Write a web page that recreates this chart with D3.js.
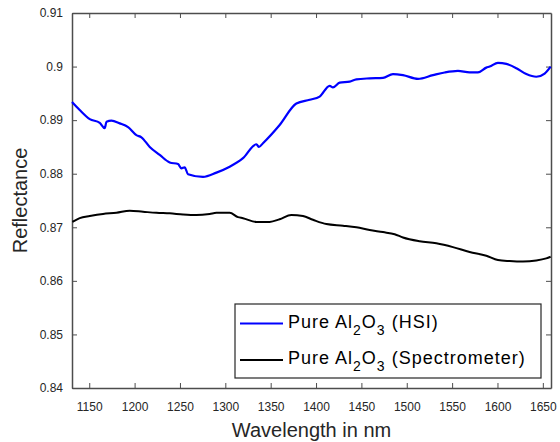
<!DOCTYPE html>
<html>
<head>
<meta charset="utf-8">
<script src="https://cdn.jsdelivr.net/npm/d3@7"></script>
<style>
  body { margin: 0; background: #fff; }
  svg { display: block; font-family: "Liberation Sans", Arial, sans-serif; }
  .axis text { font-size: 12px; fill: #262626; }
  .axis path, .axis line { stroke: #4d4d4d; }
</style>
</head>
<body>
<div id="chart"></div>
<script>
// wavelength (nm) / reflectance
const hsiWave = [1131, 1139.5, 1150.6, 1161.6, 1167.1, 1169, 1174.5, 1183.6, 1192.8, 1202, 1207.5,
  1216.7, 1227.7, 1238.7, 1247.9, 1251.6, 1255.2, 1258.9, 1275.4, 1290.2, 1304.8, 1319.5, 1334.3,
  1337.1, 1341.5, 1359.9, 1378.3, 1393, 1404, 1415, 1418.7, 1426.1, 1437.1, 1444.5, 1459.1, 1473.8,
  1484.8, 1495.8, 1512.4, 1528.9, 1541.8, 1556.4, 1569.3, 1578.5, 1587.7, 1591.4, 1600.5, 1609.8,
  1620.8, 1631.8, 1642.8, 1652, 1658.6];
const hsiRefl = [0.8934, 0.8919, 0.8902, 0.8895, 0.8885, 0.8897, 0.8899, 0.8894, 0.8887, 0.8872, 0.8868,
  0.8850, 0.8835, 0.8821, 0.8818, 0.8810, 0.8812, 0.8799, 0.8794, 0.8802, 0.8813, 0.8829, 0.8855,
  0.8850, 0.8857, 0.8891, 0.8931, 0.8938, 0.8944, 0.8964, 0.8961, 0.8970, 0.8972, 0.8976, 0.8978, 0.8979,
  0.8986, 0.8984, 0.8977, 0.8984, 0.8989, 0.8992, 0.8989, 0.8989, 0.8998, 0.9000, 0.9007, 0.9005,
  0.8997, 0.8986, 0.8981, 0.8987, 0.9000];

const specWave = [1131.5, 1139.5, 1150.6, 1165.2, 1180, 1194.6, 1209.3, 1224.1, 1238.7, 1253.4, 1268.1,
  1282.8, 1290.2, 1304.8, 1314, 1319.5, 1334.3, 1348.9, 1359.9, 1372.8, 1385.6, 1396.6, 1411.4, 1429.7,
  1444.5, 1459.1, 1473.8, 1486.7, 1495.8, 1514.2, 1532.6, 1550.9, 1569.3, 1587.7, 1600.5, 1613.4,
  1628.1, 1642.8, 1653.8, 1658.6];
const specRefl = [0.8710, 0.8717, 0.8721, 0.8725, 0.8727, 0.8731, 0.8729, 0.8727, 0.8726, 0.8724, 0.8723,
  0.8725, 0.8727, 0.8727, 0.8719, 0.8717, 0.8710, 0.8710, 0.8715, 0.8723, 0.8721, 0.8714, 0.8706, 0.8703,
  0.8700, 0.8695, 0.8691, 0.8687, 0.8681, 0.8674, 0.8670, 0.8663, 0.8654, 0.8647, 0.8639, 0.8637,
  0.8636, 0.8638, 0.8642, 0.8645];

const xTicks = [1150, 1200, 1250, 1300, 1350, 1400, 1450, 1500, 1550, 1600, 1650];
const yTicks = [0.84, 0.85, 0.86, 0.87, 0.88, 0.89, 0.9, 0.91];

const margin = {top: 13, right: 9, bottom: 54, left: 72};
const width = 560 - margin.left - margin.right;
const height = 442 - margin.top - margin.bottom;

const svg = d3.select("#chart").append("svg")
  .attr("width", 560)
  .attr("height", 442);

const g = svg.append("g")
  .attr("transform", "translate(" + margin.left + "," + margin.top + ")");

const x = d3.scaleLinear().domain([1131, 1659]).range([0, width]);
const y = d3.scaleLinear().domain([0.84, 0.91]).range([height, 0]);

// axes with inward ticks, MATLAB box style
g.append("g")
  .attr("class", "axis")
  .attr("transform", "translate(0," + height + ")")
  .call(d3.axisBottom(x).tickValues(xTicks).tickFormat(d3.format("d"))
    .tickSizeInner(-5).tickSizeOuter(0).tickPadding(14));

g.append("g")
  .attr("class", "axis")
  .call(d3.axisLeft(y).tickValues(yTicks).tickFormat(d => String(+d.toFixed(2)))
    .tickSizeInner(-5).tickSizeOuter(0).tickPadding(9));

g.append("g")
  .attr("class", "axis")
  .call(d3.axisTop(x).tickValues(xTicks).tickSizeInner(-5).tickSizeOuter(0).tickFormat(""));

g.append("g")
  .attr("class", "axis")
  .attr("transform", "translate(" + width + ",0)")
  .call(d3.axisRight(y).tickValues(yTicks).tickSizeInner(-5).tickSizeOuter(0).tickFormat(""));

g.selectAll(".axis path").attr("stroke-width", 1.5);

const line = d3.line()
  .x(d => x(d[0]))
  .y(d => y(d[1]))
  .curve(d3.curveMonotoneX);

g.append("path")
  .attr("d", line(d3.zip(specWave, specRefl)))
  .attr("fill", "none")
  .attr("stroke", "#000")
  .attr("stroke-width", 2);

g.append("path")
  .attr("d", line(d3.zip(hsiWave, hsiRefl)))
  .attr("fill", "none")
  .attr("stroke", "#0000ff")
  .attr("stroke-width", 2.2);

// axis titles
svg.append("text")
  .attr("x", margin.left + width / 2)
  .attr("y", 437)
  .attr("text-anchor", "middle")
  .attr("font-size", 20)
  .attr("fill", "#262626")
  .text("Wavelength in nm");

svg.append("text")
  .attr("transform", "translate(27," + (margin.top + height / 2) + ") rotate(-90)")
  .attr("text-anchor", "middle")
  .attr("font-size", 20)
  .attr("fill", "#262626")
  .text("Reflectance");

// legend
const legend = svg.append("g").attr("transform", "translate(235,304)");
legend.append("rect")
  .attr("width", 306).attr("height", 74)
  .attr("fill", "#fff").attr("stroke", "#262626").attr("stroke-width", 1.2);

const entries = [
  {color: "#0000ff", suffix: " (HSI)", ly: 19.5},
  {color: "#000", suffix: " (Spectrometer)", ly: 56}
];
entries.forEach(e => {
  legend.append("line")
    .attr("x1", 5).attr("x2", 48).attr("y1", e.ly).attr("y2", e.ly)
    .attr("stroke", e.color).attr("stroke-width", 2.2);
  const t = legend.append("text")
    .attr("x", 53).attr("y", e.ly + 4)
    .attr("font-size", 18).attr("letter-spacing", 1).attr("fill", "#000");
  t.append("tspan").text("Pure Al");
  t.append("tspan").attr("dy", 7).attr("font-size", 14).text("2");
  t.append("tspan").attr("dy", -7).text("O");
  t.append("tspan").attr("dy", 7).attr("font-size", 14).text("3");
  t.append("tspan").attr("dy", -7).text(e.suffix);
});
</script>
</body>
</html>
